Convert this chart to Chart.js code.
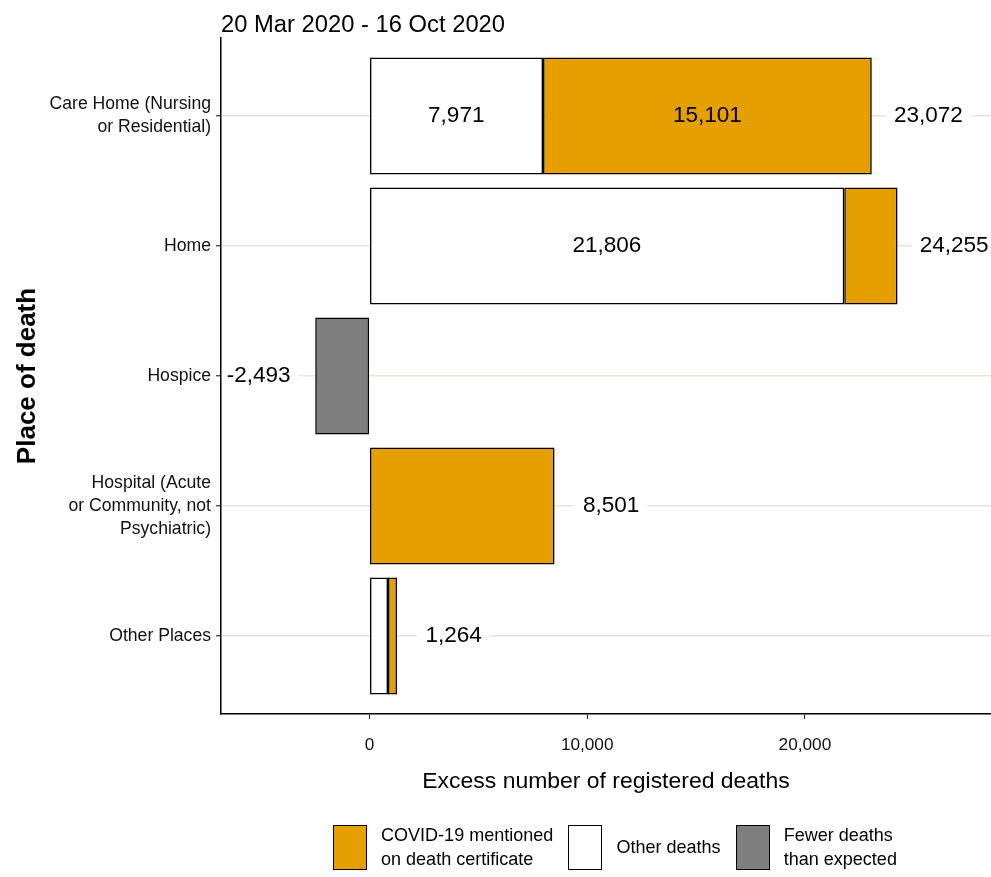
<!DOCTYPE html>
<html>
<head>
<meta charset="utf-8">
<script src="https://cdn.jsdelivr.net/npm/chart.js@4"></script>
<style>
  html, body { margin: 0; padding: 0; background: #fff; }
  #wrap { position: relative; width: 991px; height: 877px; }
  #legend { position: absolute; left: 333px; top: 825px; height: 45px; display: flex; align-items: center; color: #000; }
  .key { width: 34px; height: 45px; box-sizing: border-box; border: 1.5px solid #000; margin-right: 14px; }
  .txt { margin-right: 15px; line-height: 23.5px; white-space: nowrap; }
</style>
</head>
<body>
<div id="wrap">
  <canvas id="chart" width="991" height="877"></canvas>
  <div id="legend"></div>
</div>
<script>
const titleText = "20 Mar 2020 - 16 Oct 2020";
const categories = [
  ["Care Home (Nursing", "or Residential)"],
  "Home",
  "Hospice",
  ["Hospital (Acute", "or Community, not", "Psychiatric)"],
  "Other Places"
];
const otherDeaths = [7971, 21806, null, null, 850];
const covidDeaths = [15101, 2449, null, 8501, 414];
const fewerDeaths = [null, null, -2493, null, null];
const xTicks = [0, 10000, 20000];
const xRange = [-6821, 28548];
const labelNudge = 2600;

const legendItems = [
  { lines: ["COVID-19 mentioned", "on death certificate"], color: "#E69F00" },
  { lines: ["Other deaths"], color: "#FFFFFF" },
  { lines: ["Fewer deaths", "than expected"], color: "#7F7F7F" }
];

// the reference uses a narrow sans; fall back to a scaled regular one
const probe = document.createElement("canvas").getContext("2d");
const hasFont = name => {
  probe.font = "40px monospace";
  const a = probe.measureText("abcdefgMW 0123").width;
  probe.font = `40px "${name}", monospace`;
  return probe.measureText("abcdefgMW 0123").width !== a;
};
const NARROW = hasFont("Liberation Sans Narrow");
const FAM = NARROW ? "'Liberation Sans Narrow'" : "'Liberation Sans'";
const K = NARROW ? 1 : 0.82;

const fmt = v => v.toLocaleString("en-US");

const labelPlugin = {
  id: "barLabels",
  afterDatasetsDraw(chart) {
    const { ctx, scales: { x, y }, chartArea } = chart;
    ctx.save();
    ctx.beginPath();
    ctx.rect(chartArea.left + 1, chartArea.top, chartArea.width, chartArea.height - 1);
    ctx.clip();
    ctx.font = `${27.5 * K}px ${FAM}`;
    ctx.textAlign = "center";
    ctx.textBaseline = "middle";
    categories.forEach((c, i) => {
      const parts = [otherDeaths[i], covidDeaths[i]];
      const total = [...parts, fewerDeaths[i]].reduce((s, v) => s + (v || 0), 0);
      const py = y.getPixelForValue(i);
      let start = 0;
      ctx.fillStyle = "#000";
      parts.forEach(v => {
        if (v && v >= 5000 && v !== total) {
          ctx.fillText(fmt(v), x.getPixelForValue(start + v / 2), py);
        }
        start += v || 0;
      });
      const px = x.getPixelForValue(total + Math.sign(total) * labelNudge);
      const w = ctx.measureText(fmt(total)).width + 16;
      ctx.fillStyle = "#fff";
      ctx.fillRect(px - w / 2, py - 15, w, 30);
      ctx.fillStyle = "#000";
      ctx.fillText(fmt(total), px, py);
    });
    ctx.restore();
    ctx.save();
    ctx.fillStyle = "#000";
    ctx.font = `${29 * K}px ${FAM}`;
    ctx.textAlign = "left";
    ctx.textBaseline = "alphabetic";
    ctx.fillText(titleText, chartArea.left, 32);
    ctx.restore();
  }
};

const barStyle = { borderColor: "#000", borderWidth: 1.6, borderSkipped: false };

new Chart(document.getElementById("chart"), {
  type: "bar",
  data: {
    labels: categories.map((c, i) => i),
    datasets: [
      { label: "Other deaths", data: otherDeaths, backgroundColor: "#FFFFFF", ...barStyle },
      { label: "COVID-19 mentioned on death certificate", data: covidDeaths, backgroundColor: "#E69F00", ...barStyle },
      { label: "Fewer deaths than expected", data: fewerDeaths, backgroundColor: "#7F7F7F", ...barStyle }
    ]
  },
  options: {
    indexAxis: "y",
    responsive: false,
    animation: false,
    categoryPercentage: 1,
    barPercentage: 0.9,
    layout: { padding: { top: 38, left: 0, right: 0, bottom: 82 } },
    plugins: { legend: { display: false }, tooltip: { enabled: false }, title: { display: false } },
    scales: {
      x: {
        type: "linear",
        stacked: true,
        min: xRange[0],
        max: xRange[1],
        afterBuildTicks: s => { s.ticks = xTicks.map(v => ({ value: v })); },
        afterFit: s => { s.height = 81; },
        ticks: { color: "#111", padding: 16, font: { family: FAM, size: 21 * K }, callback: v => fmt(v) },
        grid: { drawOnChartArea: false, tickLength: 5, tickColor: "#333", tickWidth: 1.2 },
        border: { color: "#000", width: 1.5 },
        title: { display: true, text: "Excess number of registered deaths", color: "#000", padding: 0, font: { family: FAM, size: 28 * K } }
      },
      y: {
        type: "linear",
        stacked: true,
        reverse: true,
        offset: false,
        min: -0.6,
        max: 4.6,
        afterBuildTicks: s => { s.ticks = categories.map((c, i) => ({ value: i })); },
        afterFit: s => { s.width = 221; },
        ticks: { color: "#111", padding: 5, font: { family: FAM, size: 21.5 * K, lineHeight: 1.32 }, callback: v => categories[v] },
        grid: { offset: false, color: "#E6E6D6", lineWidth: 1.5, tickLength: 5, tickColor: "#333", tickWidth: 1.2 },
        border: { color: "#000", width: 1.5 },
        title: { display: true, text: "Place of death", color: "#000", padding: { top: 12 }, font: { family: "'Liberation Sans'", size: 26, weight: "bold" } }
      }
    }
  },
  plugins: [labelPlugin]
});

const legend = document.getElementById("legend");
legend.style.fontFamily = FAM;
legend.style.fontSize = `${22 * K}px`;
legendItems.forEach(item => {
  const key = document.createElement("div");
  key.className = "key";
  key.style.background = item.color;
  const txt = document.createElement("div");
  txt.className = "txt";
  txt.innerHTML = item.lines.join("<br>");
  legend.append(key, txt);
});
</script>
</body>
</html>
